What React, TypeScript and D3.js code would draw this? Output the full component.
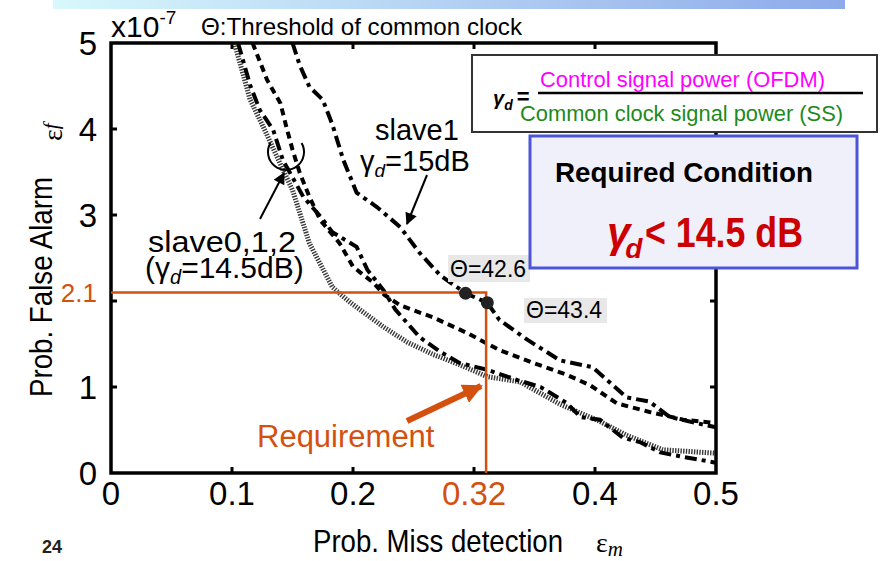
import * as d3 from "d3";

// slave0,1,2 (γd = 14.5 dB), three curves + slave1 (γd = 15 dB)
const dottedX = [0.102, 0.115, 0.127, 0.141, 0.150, 0.164, 0.183, 0.198, 0.225, 0.245, 0.266, 0.288, 0.311, 0.338, 0.371, 0.404, 0.426, 0.456, 0.500];
const dottedY = [5.00, 4.34, 3.99, 3.56, 3.29, 2.67, 2.16, 1.98, 1.70, 1.52, 1.38, 1.26, 1.12, 1.06, 0.80, 0.60, 0.44, 0.27, 0.23];

const dashDotX = [0.105, 0.115, 0.123, 0.134, 0.142, 0.159, 0.172, 0.183, 0.203, 0.212, 0.225, 0.235, 0.255, 0.272, 0.288, 0.311, 0.336, 0.355, 0.377, 0.388, 0.404, 0.423, 0.437, 0.454, 0.464, 0.500];
const dashDotY = [5.00, 4.51, 4.22, 3.99, 3.64, 3.21, 3.00, 2.80, 2.63, 2.36, 2.13, 1.90, 1.58, 1.41, 1.28, 1.20, 1.08, 1.00, 0.81, 0.65, 0.62, 0.41, 0.36, 0.24, 0.21, 0.12];

const dashedX = [0.117, 0.129, 0.140, 0.145, 0.150, 0.156, 0.164, 0.173, 0.189, 0.200, 0.217, 0.226, 0.239, 0.266, 0.294, 0.321, 0.349, 0.377, 0.396, 0.418, 0.445, 0.473, 0.500];
const dashedY = [5.00, 4.57, 4.30, 4.02, 3.76, 3.49, 3.21, 2.94, 2.67, 2.40, 2.21, 2.07, 1.95, 1.81, 1.63, 1.43, 1.28, 1.14, 1.02, 0.81, 0.71, 0.62, 0.58];

const slave1X = [0.150, 0.156, 0.164, 0.175, 0.183, 0.192, 0.203, 0.220, 0.239, 0.255, 0.272, 0.293, 0.311, 0.321, 0.344, 0.371, 0.398, 0.426, 0.445, 0.462, 0.500];
const slave1Y = [5.00, 4.74, 4.49, 4.34, 4.05, 3.64, 3.26, 3.09, 2.86, 2.56, 2.30, 2.09, 1.98, 1.78, 1.55, 1.31, 1.23, 0.88, 0.83, 0.65, 0.53];

const thetaX = [0.293, 0.311];
const thetaY = [2.09, 1.98];
const thetaLabels = ["Θ=42.6", "Θ=43.4"];

const xTicks = [0, 0.1, 0.2, 0.3, 0.4, 0.5];
const xTickLabels = ["0", "0.1", "0.2", "", "0.4", "0.5"];
const yTicks = [0, 1, 2, 3, 4, 5];
const yTickLabels = ["0", "1", "", "3", "4", "5"];

const REQ_X = 0.31;
const REQ_Y = 2.1;

const W = 885;
const H = 561;
const PLOT = { left: 111, right: 716, top: 43, bottom: 473 };
const ORANGE = "#d4500f";
const SANS = "'Liberation Sans', Arial, sans-serif";
const NARROW = "'Liberation Sans Narrow', 'Arial Narrow', 'Liberation Sans', Arial, sans-serif";
const SERIF = "'Liberation Serif', 'Times New Roman', serif";

const x = d3.scaleLinear().domain([0, 0.5]).range([PLOT.left, PLOT.right]);
const y = d3.scaleLinear().domain([0, 5]).range([PLOT.bottom, PLOT.top]);

const line = d3
  .line<[number, number]>()
  .x((d) => x(d[0]))
  .y((d) => y(d[1]));

const zip = (xs: number[], ys: number[]) => xs.map((v, i) => [v, ys[i]] as [number, number]);

export default function App() {
  const arc = d3.arc()({
    innerRadius: 18,
    outerRadius: 18,
    startAngle: Math.PI / 3,
    endAngle: (5 * Math.PI) / 3,
  } as any);

  return (
    <svg
      width={W}
      height={H}
      style={{ position: "absolute", left: 0, top: 0, background: "#fff" }}
      fontFamily={SANS}
    >
      <defs>
        <linearGradient id="topbar" x1="0" x2="1" y1="0" y2="0">
          <stop offset="0" stopColor="#d8f8fc" />
          <stop offset="1" stopColor="#8eaaea" />
        </linearGradient>
        <clipPath id="plot">
          <rect x={PLOT.left} y={PLOT.top} width={PLOT.right - PLOT.left} height={PLOT.bottom - PLOT.top} />
        </clipPath>
        <marker id="headBlack" viewBox="0 0 10 10" refX="9" refY="5" markerWidth="14" markerHeight="12" markerUnits="userSpaceOnUse" orient="auto">
          <path d="M0,0 L10,5 L0,10 z" fill="#000" />
        </marker>
        <marker id="headOrange" viewBox="0 0 10 10" refX="9" refY="5" markerWidth="20" markerHeight="20" markerUnits="userSpaceOnUse" orient="auto">
          <path d="M0,0 L10,5 L0,10 z" fill={ORANGE} />
        </marker>
      </defs>

      <rect x={53} y={0} width={792} height={9} fill="url(#topbar)" />

      {/* curves */}
      <g clipPath="url(#plot)" fill="none">
        <path d={line(zip(dottedX, dottedY)) ?? ""} stroke="#383838" strokeWidth={5} strokeDasharray="1.4 1.3" />
        <path d={line(zip(dashDotX, dashDotY)) ?? ""} stroke="#000" strokeWidth={4} strokeDasharray="12 5 4 5" />
        <path d={line(zip(dashedX, dashedY)) ?? ""} stroke="#000" strokeWidth={4} strokeDasharray="7 5" />
        <path d={line(zip(slave1X, slave1Y)) ?? ""} stroke="#000" strokeWidth={4} strokeDasharray="12 5 4 5" />
      </g>

      {/* frame and ticks */}
      <rect x={PLOT.left} y={PLOT.top} width={PLOT.right - PLOT.left} height={PLOT.bottom - PLOT.top} fill="none" stroke="#000" strokeWidth={3.5} />
      {xTicks.slice(1, -1).map((t) => (
        <g key={"xt" + t} stroke="#000" strokeWidth={3}>
          <line x1={x(t)} x2={x(t)} y1={PLOT.bottom} y2={PLOT.bottom - 6} />
          <line x1={x(t)} x2={x(t)} y1={PLOT.top} y2={PLOT.top + 6} />
        </g>
      ))}
      {yTicks.slice(1, -1).map((t) => (
        <g key={"yt" + t} stroke="#000" strokeWidth={3}>
          <line x1={PLOT.left} x2={PLOT.left + 6} y1={y(t)} y2={y(t)} />
          <line x1={PLOT.right} x2={PLOT.right - 6} y1={y(t)} y2={y(t)} />
        </g>
      ))}

      {/* tick labels */}
      <g fontFamily={NARROW} fontSize={33} fill="#000">
        {xTicks.map((t, i) => (
          <text key={"xl" + t} x={x(t)} y={505} textAnchor="middle">{xTickLabels[i]}</text>
        ))}
        {yTicks.map((t, i) => (
          <text key={"yl" + t} x={97} y={y(t) + 12} textAnchor="end">{yTickLabels[i]}</text>
        ))}
        <text x={x(0.3)} y={505} textAnchor="middle" fill={ORANGE}>0.32</text>
        <text x={97} y={y(REQ_Y) + 10} textAnchor="end" fill={ORANGE} fontSize={26}>2.1</text>
        <text x={111} y={37} fontSize={30}>
          x10<tspan dy={-13} fontSize={19}>-7</tspan>
        </text>
      </g>

      {/* axis titles */}
      <text x={313} y={552} fontFamily={NARROW} fontSize={32} textLength={250} lengthAdjust="spacingAndGlyphs">Prob. Miss detection</text>
      <text x={596} y={552} fontFamily={SERIF} fontSize={28}>
        ε<tspan dy={4} fontSize={21} fontStyle="italic">m</tspan>
      </text>
      <text transform="translate(52,397) rotate(-90)" fontFamily={NARROW} fontSize={32} textLength={220} lengthAdjust="spacingAndGlyphs">Prob. False Alarm</text>
      <text transform="translate(62,141) rotate(-90)" fontFamily={SERIF} fontSize={28}>
        ε<tspan dy={-4} fontSize={21} fontStyle="italic">f</tspan>
      </text>
      <text x={42} y={553} fontSize={18} fontWeight="bold" fill="#222">24</text>
      <text x={201} y={35} fontSize={24} textLength={321} lengthAdjust="spacingAndGlyphs">Θ:Threshold of common clock</text>

      {/* requirement lines */}
      <g stroke={ORANGE} strokeWidth={2.5} fill="none">
        <polyline points={`${PLOT.left},${y(REQ_Y)} ${x(REQ_X)},${y(REQ_Y)} ${x(REQ_X)},${PLOT.bottom}`} />
      </g>
      <line x1={407} y1={421} x2={481} y2={386} stroke={ORANGE} strokeWidth={6} markerEnd="url(#headOrange)" />
      <text x={257} y={447} fontSize={31} fill={ORANGE}>Requirement</text>

      {/* theta points */}
      {thetaX.map((t, i) => (
        <circle key={"th" + i} cx={x(t)} cy={y(thetaY[i])} r={6.5} fill="#222" />
      ))}
      <rect x={448} y={255} width={82} height={27} fill="#e8e8e8" />
      <text x={450} y={277} fontSize={23}>{thetaLabels[0]}</text>
      <rect x={524} y={298} width={83} height={25} fill="#e8e8e8" />
      <text x={526} y={318} fontSize={23}>{thetaLabels[1]}</text>

      {/* slave annotations */}
      <text x={375} y={140} fontSize={29}>slave1</text>
      <text x={360} y={171} fontSize={29}>
        γ<tspan dy={6} fontSize={19} fontStyle="italic">d</tspan>
        <tspan dy={-6}>=15dB</tspan>
      </text>
      <line x1={427} y1={175} x2={407} y2={224} stroke="#000" strokeWidth={2} markerEnd="url(#headBlack)" />

      <text x={148} y={252} fontSize={29} textLength={148} lengthAdjust="spacingAndGlyphs">slave0,1,2</text>
      <text x={145} y={278} fontSize={30}>
        (γ<tspan dy={6} fontSize={20} fontStyle="italic">d</tspan>
        <tspan dy={-6}>=14.5dB)</tspan>
      </text>
      <line x1={260} y1={219} x2={284} y2={173} stroke="#000" strokeWidth={2} markerEnd="url(#headBlack)" />
      <path d={arc ?? ""} transform="translate(286,152)" fill="none" stroke="#000" strokeWidth={2} />

      {/* gamma definition box */}
      <rect x={472} y={55} width={405} height={77} fill="#fff" stroke="#333" strokeWidth={2} />
      <text x={493} y={105} fontSize={20} fontWeight="bold" fontStyle="italic">
        γ<tspan dy={5} fontSize={14}>d</tspan>
        <tspan dx={4} dy={-6} fontSize={22} fontStyle="normal">=</tspan>
      </text>
      <line x1={538} x2={863} y1={93} y2={93} stroke="#000" strokeWidth={2.5} />
      <text x={540} y={87} fontSize={22} fill="#ff00ff" textLength={285} lengthAdjust="spacingAndGlyphs">Control signal power (OFDM)</text>
      <text x={520} y={121} fontSize={22} fill="#1c8a1c" textLength={323} lengthAdjust="spacingAndGlyphs">Common clock signal power (SS)</text>

      {/* required condition box */}
      <rect x={530} y={136} width={327} height={132} fill="#f0f0fa" stroke="#4b55d6" strokeWidth={3} />
      <text x={555} y={182} fontSize={28} fontWeight="bold" textLength={258} lengthAdjust="spacingAndGlyphs">Required Condition</text>
      <text x={607} y={247} fontSize={42} fontWeight="bold" fontStyle="italic" fill="#cc0000">
        γ<tspan dx={-5} dy={11} fontSize={28}>d</tspan>
      </text>
      <text x={645} y={247} fontSize={42} fontWeight="bold" fill="#cc0000" textLength={158} lengthAdjust="spacingAndGlyphs">{"< 14.5 dB"}</text>
    </svg>
  );
}
